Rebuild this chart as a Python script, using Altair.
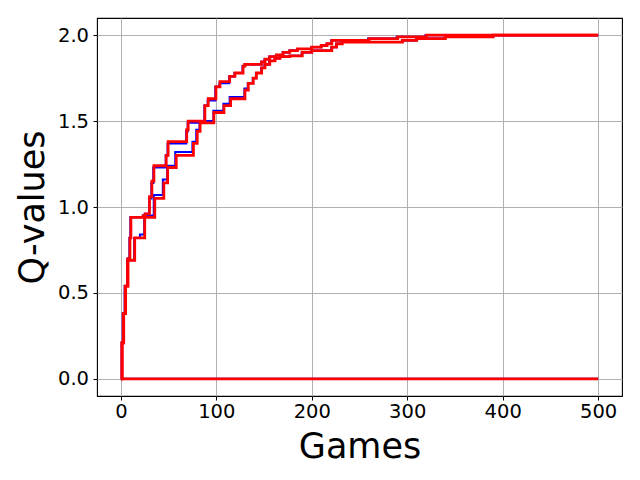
import altair as alt
import pandas as pd

# Upper curve (red, drawn on top)
u_red_games = [0, 1, 2.5, 4.5, 7.5, 9.5, 10.5, 23.5, 25.6, 30, 32.5, 34.6, 47.5, 49.5,
               69, 70.5, 88, 91.5, 99.6, 103.8, 114, 119.5, 128, 130, 147.5, 151, 156, 163,
               170, 177, 185, 200, 210, 216, 221, 260, 290, 320, 500]
u_red_vals = [0, 0.21, 0.38, 0.54, 0.70, 0.82, 0.94, 0.95, 0.96, 1.06, 1.15, 1.24, 1.30, 1.38,
              1.45, 1.50, 1.59, 1.63, 1.70, 1.73, 1.76, 1.78, 1.82, 1.83, 1.845, 1.86, 1.875, 1.885,
              1.90, 1.91, 1.92, 1.93, 1.94, 1.95, 1.97, 1.98, 1.99, 2.00, 2.00]

# Upper curve (blue, underneath)
u_blue_games = [0, 0.8, 2, 4, 7, 9, 10, 23, 25, 29.5, 32, 34, 47, 49,
                68.5, 70, 87.5, 91, 99, 103.3, 113.5, 119, 127.5, 129.5, 147, 150.5, 155.5, 162.5,
                169.5, 176.5, 184.5, 199.5, 209.5, 215.5, 220.5, 259, 289, 319, 500]
u_blue_vals = [0, 0.21, 0.38, 0.54, 0.70, 0.82, 0.94, 0.95, 0.96, 1.05, 1.14, 1.23, 1.30, 1.37,
               1.44, 1.49, 1.59, 1.62, 1.70, 1.72, 1.76, 1.78, 1.82, 1.83, 1.845, 1.86, 1.875, 1.885,
               1.90, 1.91, 1.92, 1.93, 1.94, 1.95, 1.97, 1.98, 1.99, 2.00, 2.00]

# Lower curve (red)
l_red_games = [0, 1.5, 3, 5, 7, 14.5, 25, 35.5, 45, 49, 58, 76, 80, 83, 97.4, 108, 115,
               130, 133.5, 138.7, 142, 147.5, 151, 156, 161.5, 166.7, 177, 190, 200, 221, 226,
               232, 295, 310, 340, 390, 500]
l_red_vals = [0, 0.21, 0.38, 0.54, 0.69, 0.82, 0.94, 1.05, 1.14, 1.23, 1.30, 1.37, 1.44, 1.49,
              1.55, 1.59, 1.63, 1.68, 1.72, 1.75, 1.78, 1.81, 1.83, 1.85, 1.865, 1.875, 1.88, 1.90,
              1.91, 1.93, 1.95, 1.96, 1.97, 1.98, 1.99, 2.00, 2.00]

# Lower curve (blue)
l_blue_games = [0, 1.2, 2.6, 4.6, 6.6, 14, 20, 24.5, 34.5, 44, 48.5, 57, 75, 79, 82.5, 97, 107.5,
                114, 129.5, 133, 138.2, 141.5, 147, 150.5, 155.5, 161, 166.2, 176.5, 189.5, 199.5,
                220.5, 225.5, 231.5, 294.5, 309.5, 339.5, 389.5, 500]
l_blue_vals = [0, 0.21, 0.38, 0.54, 0.69, 0.82, 0.84, 0.95, 1.07, 1.16, 1.24, 1.32, 1.38, 1.45,
               1.50, 1.56, 1.60, 1.64, 1.69, 1.72, 1.75, 1.78, 1.81, 1.83, 1.85, 1.865, 1.875, 1.88,
               1.90, 1.91, 1.93, 1.95, 1.96, 1.97, 1.98, 1.99, 2.00, 2.00]

# Flat lines at zero
zero_games = [0, 500]
zero_vals = [0, 0]

x_ticks = [0, 100, 200, 300, 400, 500]
y_ticks = [0.0, 0.5, 1.0, 1.5, 2.0]


def frame(name, games, vals):
    return pd.DataFrame({"game": games, "q": vals, "series": name})


blue_df = pd.concat([
    frame("zero_b", zero_games, zero_vals),
    frame("upper_b", u_blue_games, u_blue_vals),
    frame("lower_b", l_blue_games, l_blue_vals),
])
red_df = pd.concat([
    frame("zero_r", zero_games, zero_vals),
    frame("upper_r", u_red_games, u_red_vals),
    frame("lower_r", l_red_games, l_red_vals),
])

x_enc = alt.X("game:Q",
              scale=alt.Scale(domain=[-25, 525], nice=False, zero=False),
              axis=alt.Axis(values=x_ticks, title="Games", format="d"))
y_enc = alt.Y("q:Q",
              scale=alt.Scale(domain=[-0.1, 2.1], nice=False, zero=False),
              axis=alt.Axis(values=y_ticks, title="Q-values", format=".1f"))

blue = alt.Chart(blue_df).mark_line(
    interpolate="step-after", color="#0000ff", strokeWidth=2.1
).encode(x=x_enc, y=y_enc, detail="series:N")

red = alt.Chart(red_df).mark_line(
    interpolate="step-after", color="#ff0000", strokeWidth=2.8
).encode(x=x_enc, y=y_enc, detail="series:N")

chart = alt.layer(blue, red).properties(
    width=525,
    height=378,
    autosize=alt.AutoSizeParams(type="none"),
    padding={"left": 89, "top": 10, "right": 10, "bottom": 76},
).configure_view(
    stroke="#000000", strokeWidth=1.1
).configure_axis(
    grid=True,
    gridColor="#b0b0b0",
    gridWidth=1,
    domain=False,
    ticks=True,
    tickColor="#000000",
    tickSize=4,
    tickWidth=1,
    labelFont="DejaVu Sans",
    labelFontSize=19.5,
    labelColor="#000000",
    titleFont="DejaVu Sans",
    titleFontSize=35,
    titleFontWeight="normal",
    titleColor="#000000",
).configure_axisX(
    labelPadding=2,
    titlePadding=9,
).configure_axisY(
    labelPadding=4.5,
    titlePadding=7,
)

chart.save("out.html", embed_options={"renderer": "svg", "actions": False})
